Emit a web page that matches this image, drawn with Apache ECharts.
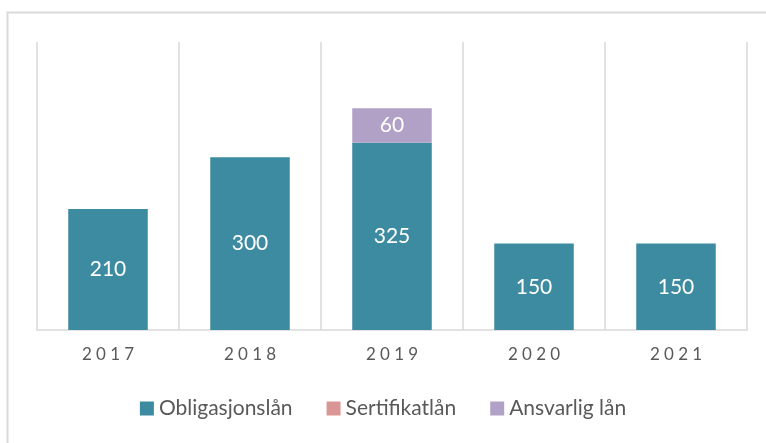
<!DOCTYPE html>
<html>
<head>
<meta charset="utf-8">
<script src="https://cdn.jsdelivr.net/npm/echarts@6/dist/echarts.min.js"></script>
<style>
  html, body { margin: 0; padding: 0; background: #fff; }
  #chart { width: 766px; height: 443px; }
</style>
</head>
<body>
<div id="chart"></div>
<script>
// data
const years = ['2017', '2018', '2019', '2020', '2021'];
const obligasjonslan = [210, 300, 325, 150, 150];
const sertifikatlan = [0, 0, 0, 0, 0];
const ansvarligLan = [0, 0, 60, 0, 0];

const chart = echarts.init(document.getElementById('chart'));
const font = 'Lato, "Open Sans", sans-serif';

const hideZero = p => (p.value ? p.value : '');

const seriesDef = (name, data, color) => ({
  name: name,
  type: 'bar',
  stack: 'total',
  barWidth: '56%',
  data: data,
  itemStyle: { color: color },
  label: {
    show: true,
    position: 'inside',
    color: '#fff',
    fontSize: 21,
    fontFamily: font,
    formatter: hideZero
  }
});

chart.setOption({
  animation: false,
  graphic: [{
    type: 'rect',
    shape: { x: 7.5, y: 12.5, width: 800, height: 500 },
    style: { fill: 'none', stroke: '#d9d9d9', lineWidth: 2 },
    z: -1
  }],
  grid: { left: 37, right: 19, top: 42, bottom: 113 },
  legend: {
    bottom: 19,
    left: 'center',
    itemWidth: 14,
    itemHeight: 14,
    itemGap: 34,
    icon: 'rect',
    textStyle: { color: '#595959', fontSize: 21, fontFamily: font },
    data: ['Obligasjonslån', 'Sertifikatlån', 'Ansvarlig lån']
  },
  xAxis: {
    type: 'category',
    data: years,
    axisLine: { lineStyle: { color: '#d9d9d9', width: 1.5 } },
    axisTick: { show: false },
    splitLine: { show: true, lineStyle: { color: '#d9d9d9', width: 1.5 } },
    axisLabel: {
      color: '#595959',
      fontSize: 17,
      fontFamily: font,
      margin: 16,
      formatter: v => v.split('').join('\u2005')
    }
  },
  yAxis: {
    type: 'value',
    min: 0,
    max: 500,
    show: false,
    splitLine: { show: false }
  },
  series: [
    seriesDef('Obligasjonslån', obligasjonslan, '#3d8ba1'),
    seriesDef('Sertifikatlån', sertifikatlan, '#d99694'),
    seriesDef('Ansvarlig lån', ansvarligLan, '#b2a1c7')
  ]
});
</script>
</body>
</html>
